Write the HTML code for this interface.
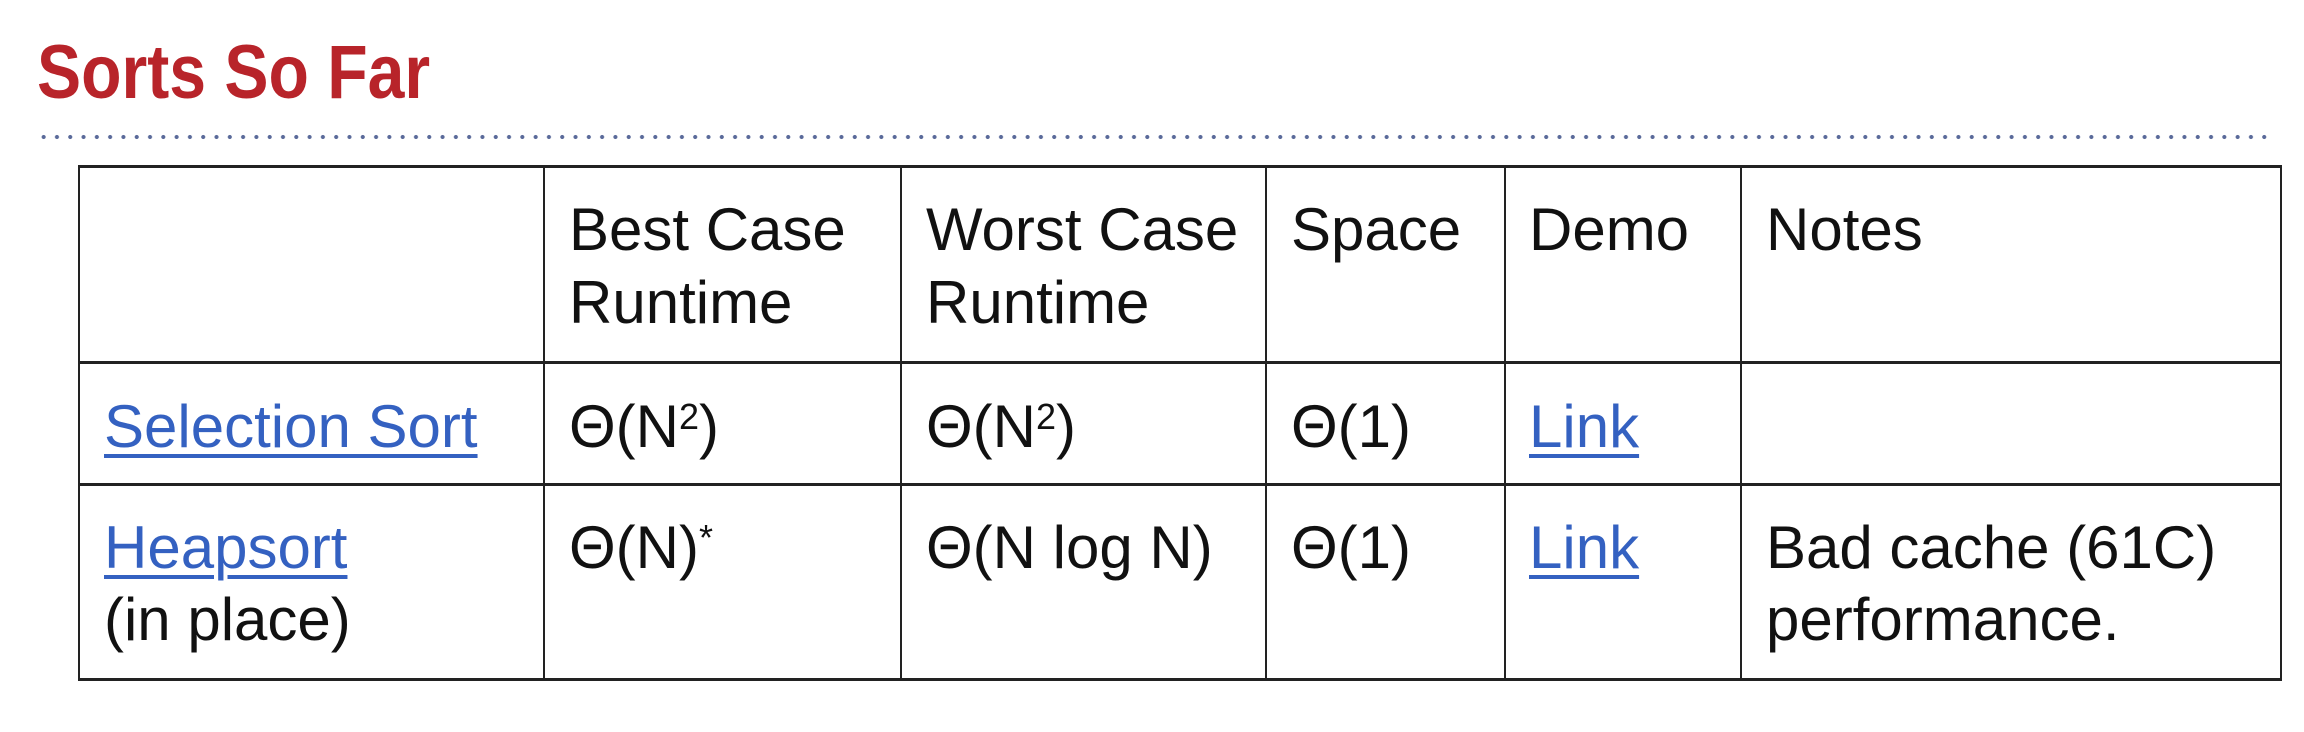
<!DOCTYPE html>
<html><head><meta charset="utf-8"><style>
body{margin:0;width:2304px;height:732px;background:#fff;position:relative;overflow:hidden;font-family:"Liberation Sans",Arial,sans-serif}
.t{position:absolute;font-size:60px;line-height:60px;color:#111;white-space:nowrap}
.a{color:#3461c1;text-decoration:underline;text-decoration-thickness:4px;text-underline-offset:7px}
.h{position:absolute;background:#222;height:3px}
.v{position:absolute;background:#222;width:2px;top:166px;height:515px}
sup{font-size:36px;vertical-align:top;position:relative;top:-10px}
</style></head><body>
<div style="position:absolute;left:37px;top:35px;font-size:76px;line-height:76px;font-weight:bold;color:#b8242a;transform:scaleX(0.87);transform-origin:left">Sorts So Far</div>
<div style="position:absolute;left:37px;top:134px;width:2233px;height:6px;background-image:radial-gradient(circle,#5a6a9a 1.8px,transparent 2.3px);background-size:13.3px 6px"></div>
<div class="h" style="left:78px;width:2204px;top:165px"></div>
<div class="h" style="left:78px;width:2204px;top:361px"></div>
<div class="h" style="left:78px;width:2204px;top:483px"></div>
<div class="h" style="left:78px;width:2204px;top:678px"></div>
<div class="v" style="left:78px"></div>
<div class="v" style="left:543px"></div>
<div class="v" style="left:900px"></div>
<div class="v" style="left:1265px"></div>
<div class="v" style="left:1504px"></div>
<div class="v" style="left:1740px"></div>
<div class="v" style="left:2280px"></div>

<div class="t" style="left:569px;top:200px">Best Case</div>
<div class="t" style="left:569px;top:273px">Runtime</div>
<div class="t" style="left:926px;top:200px">Worst Case</div>
<div class="t" style="left:926px;top:273px">Runtime</div>
<div class="t" style="left:1291px;top:200px">Space</div>
<div class="t" style="left:1529px;top:200px">Demo</div>
<div class="t" style="left:1766px;top:200px">Notes</div>

<div class="t a" style="left:104px;top:397px">Selection Sort</div>
<div class="t" style="left:569px;top:397px">Θ(N<sup>2</sup>)</div>
<div class="t" style="left:926px;top:397px">Θ(N<sup>2</sup>)</div>
<div class="t" style="left:1291px;top:397px">Θ(1)</div>
<div class="t a" style="left:1529px;top:397px">Link</div>

<div class="t a" style="left:104px;top:518px">Heapsort</div>
<div class="t" style="left:104px;top:590px">(in place)</div>
<div class="t" style="left:569px;top:518px">Θ(N)<sup>*</sup></div>
<div class="t" style="left:926px;top:518px">Θ(N log N)</div>
<div class="t" style="left:1291px;top:518px">Θ(1)</div>
<div class="t a" style="left:1529px;top:518px">Link</div>
<div class="t" style="left:1766px;top:518px">Bad cache (61C)</div>
<div class="t" style="left:1766px;top:590px">performance.</div>
</body></html>
